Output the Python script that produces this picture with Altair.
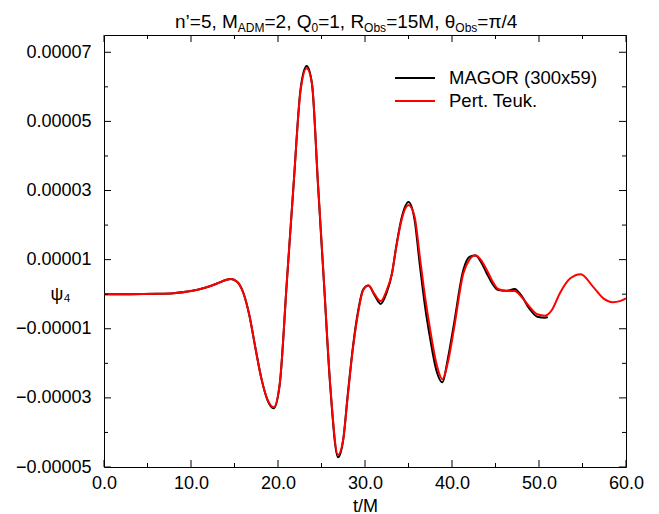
import altair as alt
import pandas as pd
import numpy as np

# ---------------- data (psi values in units of 1e-5) ----------------
series_names = ["MAGOR (300x59)", "Pert. Teuk."]
series_colors = ["black", "red"]

t_teuk = [0.0, 3.0, 6.0, 8.0, 10.0, 11.5, 13.0, 14.0, 14.6, 15.3,
          16.0, 16.7, 17.4, 18.1, 18.8, 19.5, 20.2, 21.0, 21.8, 22.6,
          23.3, 23.9, 24.6, 25.3, 26.0, 26.9, 27.5, 28.0, 28.6, 29.2,
          29.8, 30.4, 31.1, 31.8, 32.5, 33.1, 33.6, 34.2, 35.0, 35.7,
          36.3, 36.9, 37.5, 38.2, 38.9, 39.5, 40.2, 41.3, 42.0, 42.7,
          43.3, 44.0, 44.7, 45.3, 46.3, 47.2, 48.0, 48.9, 49.8, 50.7,
          51.5, 52.4, 53.6, 54.8, 56.2, 57.4, 58.5, 59.3, 60.0]
psi_teuk_e5 = [0.0, 0.0, 0.01, 0.03, 0.09, 0.18, 0.31, 0.41, 0.44, 0.36,
               0.05, -0.6, -1.55, -2.45, -3.05, -3.27, -2.6, 0.3, 3.2, 5.9,
               6.54, 6.1, 3.2, 0.3, -2.6, -4.65, -4.2, -3.0, -1.6, -0.55,
               0.12, 0.25, 0.0, -0.2, 0.12, 0.6, 1.37, 2.15, 2.58, 2.24,
               1.09, -0.07, -1.04, -2.0, -2.46, -2.0, -1.04, 0.6, 1.0, 1.13,
               1.0, 0.7, 0.35, 0.15, 0.09, 0.09, -0.08, -0.36, -0.58, -0.62,
               -0.45, 0.03, 0.46, 0.58, 0.22, -0.12, -0.23, -0.2, -0.12]

t_magor = [0.0, 3.0, 6.0, 8.0, 10.0, 11.5, 13.0, 14.0, 14.6, 15.3,
           16.0, 16.7, 17.4, 18.1, 18.8, 19.5, 20.2, 21.0, 21.8, 22.6,
           23.3, 23.9, 24.6, 25.3, 26.0, 26.9, 27.5, 28.0, 28.6, 29.2,
           29.8, 30.4, 31.1, 31.8, 32.5, 33.1, 33.6, 34.2, 35.0, 35.7,
           36.3, 36.9, 37.5, 38.2, 38.9, 39.5, 40.2, 41.3, 42.0, 42.7,
           43.3, 44.0, 44.7, 45.3, 46.3, 47.2, 48.0, 48.9, 49.8, 50.7,
           51.0]
psi_magor_e5 = [0.0, 0.0, 0.01, 0.03, 0.09, 0.18, 0.31, 0.41, 0.44, 0.36,
                0.05, -0.6, -1.55, -2.45, -3.07, -3.3, -2.6, 0.3, 3.2, 5.95,
                6.6, 6.1, 3.15, 0.25, -2.65, -4.72, -4.2, -2.95, -1.55, -0.5,
                0.14, 0.25, -0.03, -0.28, 0.05, 0.6, 1.4, 2.2, 2.67, 2.15,
                0.85, -0.35, -1.3, -2.2, -2.55, -1.9, -0.9, 0.7, 1.08, 1.12,
                0.95, 0.6, 0.28, 0.12, 0.1, 0.15, -0.05, -0.42, -0.65, -0.68,
                -0.66]

x_major = [0, 10, 20, 30, 40, 50, 60]
x_minor = [5, 15, 25, 35, 45, 55]
y_major = [-5e-5, -3e-5, -1e-5, 1e-5, 3e-5, 5e-5, 7e-5]
y_minor = [-4e-5, -2e-5, 0.0, 2e-5, 4e-5, 6e-5]
x_domain = [0, 60]
y_domain = [-5e-5, 7.5e-5]

title_pieces = [("n’=5, M", False), ("ADM", True), ("=2, Q", False), ("0", True),
                ("=1, R", False), ("Obs", True), ("=15M, θ", False), ("Obs", True),
                ("=π/4", False)]

# ---------------- layout / style ----------------
W, H = 522, 432
FONT = "Liberation Sans"
MAIN_FS, SUB_FS = 19, 12

df_m = pd.DataFrame({"t": t_magor, "psi": np.array(psi_magor_e5) * 1e-5,
                     "series": series_names[0]})
df_t = pd.DataFrame({"t": t_teuk, "psi": np.array(psi_teuk_e5) * 1e-5,
                     "series": series_names[1]})

xs = alt.Scale(domain=x_domain, nice=False, zero=False)
ys = alt.Scale(domain=y_domain, nice=False, zero=False)
cs = alt.Scale(domain=series_names, range=series_colors)

zero_px = H * (y_domain[1] - 0.0) / (y_domain[1] - y_domain[0])

x_axis = alt.Axis(values=x_major, format=".1f", tickSize=0, domain=False, grid=False,
                  labelFlush=False, labelOverlap=False,
                  labelPadding=7, title="t/M", titlePadding=5)
y_axis = alt.Axis(values=y_major, format=".5f", tickSize=0, domain=False, grid=False,
                  labelFlush=False, labelOverlap=False,
                  labelPadding=13, title="ψ₄", titleAngle=0, titleX=-44, titleY=zero_px,
                  titleAlign="center", titleBaseline="middle")

X_ENC = dict(field="t", type="quantitative", scale=xs, axis=x_axis)
Y_ENC = dict(field="psi", type="quantitative", scale=ys, axis=y_axis)


def curve(df):
    return alt.Chart(df).mark_line(strokeWidth=2, interpolate="monotone").encode(
        x=alt.X(**X_ENC),
        y=alt.Y(**Y_ENC),
        color=alt.Color("series:N", scale=cs, legend=None),
    )


def yticks(vals, x0, x1):
    return alt.Chart(pd.DataFrame({"psi": vals})).mark_rule(color="black", strokeWidth=1).encode(
        y=alt.Y(**Y_ENC), x=alt.value(x0), x2=alt.value(x1))


def xticks(vals, y0, y1):
    return alt.Chart(pd.DataFrame({"t": vals})).mark_rule(color="black", strokeWidth=1).encode(
        x=alt.X(**X_ENC), y=alt.value(y0), y2=alt.value(y1))


MAJ, MIN = 7, 4
ticks = [
    yticks(y_major, 0, MAJ), yticks(y_minor, 0, MIN),
    yticks(y_major, W, W - MAJ), yticks(y_minor, W, W - MIN),
    xticks(x_major, H, H - MAJ), xticks(x_minor, H, H - MIN),
    xticks(x_major, 0, MAJ), xticks(x_minor, 0, MIN),
]

# legend (manual, line + label)
legend_layers = []
for i, name in enumerate(series_names):
    ly = 43 + 23 * i
    d = pd.DataFrame({"series": [name]})
    legend_layers.append(alt.Chart(d).mark_rule(strokeWidth=2).encode(
        color=alt.Color("series:N", scale=cs, legend=None),
        x=alt.value(291), x2=alt.value(331), y=alt.value(ly)))
    legend_layers.append(alt.Chart(d).mark_text(
        align="left", baseline="middle", font=FONT, fontSize=18.5, color="black").encode(
        text="series:N", x=alt.value(345), y=alt.value(ly)))

# title with subscripts
ARIAL = {"n": 556, "’": 222, "=": 584, "5": 556, ",": 278, " ": 278, "M": 833, "A": 667,
         "D": 722, "2": 556, "Q": 778, "0": 556, "1": 556, "R": 722, "O": 778, "b": 556,
         "s": 500, "θ": 556, "π": 560, "/": 278, "4": 556}


def text_w(s, fs):
    return sum(ARIAL.get(c, 556) for c in s) * fs / 1000.0


title_layers = []
cx = 71.0
for txt, sub in title_pieces:
    fs = SUB_FS if sub else MAIN_FS
    ty = -3 if sub else -7
    title_layers.append(alt.Chart(pd.DataFrame({"label": [txt]})).mark_text(
        align="left", baseline="alphabetic", font=FONT, fontSize=fs, color="black").encode(
        text="label:N", x=alt.value(cx), y=alt.value(ty)))
    cx += text_w(txt, fs)

chart = alt.layer(
    curve(df_m), curve(df_t), *ticks, *legend_layers, *title_layers
).properties(
    width=W, height=H,
    padding={"left": 104, "top": 35, "right": 33, "bottom": 47},
    autosize=alt.AutoSizeParams(type="none"),
).configure_view(
    stroke="black", strokeWidth=1
).configure_axis(
    labelFont=FONT, titleFont=FONT, labelFontSize=18, titleFontSize=18,
    labelColor="black", titleColor="black", titleFontWeight="normal"
)

chart.save("out.html", embed_options={"renderer": "svg", "actions": False})
